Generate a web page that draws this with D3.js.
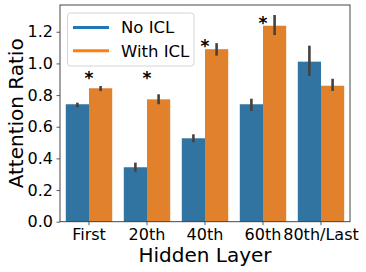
<!DOCTYPE html>
<html><head><meta charset="utf-8">
<script src="https://cdn.jsdelivr.net/npm/d3@7"></script>
<style>body{margin:0;background:#fff}svg{display:block}text{font-family:"DejaVu Sans",sans-serif;fill:#000}</style>
</head><body><svg id="c" width="366" height="272"></svg>
<script>
const categories = ["First","20th","40th","60th","80th/Last"];
const seriesNames = ["No ICL","With ICL"];
const noICL      = [0.742, 0.344, 0.527, 0.742, 1.011];
const noICLLo    = [0.722, 0.316, 0.502, 0.699, 0.922];
const noICLHi    = [0.752, 0.373, 0.552, 0.777, 1.112];
const withICL    = [0.843, 0.773, 1.090, 1.238, 0.859];
const withICLLo  = [0.825, 0.742, 1.049, 1.179, 0.826];
const withICLHi  = [0.857, 0.805, 1.128, 1.306, 0.903];
const starCats   = ["First","20th","40th","60th"];
const starVals   = [0.93, 0.93, 1.133, 1.279];
const yTicks     = [0.0,0.2,0.4,0.6,0.8,1.0,1.2];
const barColors  = ["#3274a1","#e1812c"];
const legColors  = ["#1f77b4","#ff7f0e"];

const svg = d3.select("#c");
const m = {l:60, r:350, t:5, b:221.7};
const x = d3.scaleBand().domain(categories).range([m.l, m.r]).paddingInner(0).paddingOuter(0);
const x1 = d3.scaleBand().domain(seriesNames).range([0.1*x.bandwidth(), 0.9*x.bandwidth()]);
const y = d3.scaleLinear().domain([0, 1.369]).range([m.b, m.t]);

const series = [
  {name:seriesNames[0], v:noICL, lo:noICLLo, hi:noICLHi, c:barColors[0]},
  {name:seriesNames[1], v:withICL, lo:withICLLo, hi:withICLHi, c:barColors[1]}
];
series.forEach(s=>{
  const g = svg.append("g");
  g.selectAll("rect").data(categories).join("rect")
    .attr("x", (d)=>x(d)+x1(s.name)).attr("width", x1.bandwidth())
    .attr("y", (d,i)=>y(s.v[i])).attr("height",(d,i)=>y(0)-y(s.v[i]))
    .attr("fill", s.c);
});
series.forEach(s=>{
  svg.append("g").selectAll("line").data(categories).join("line")
    .attr("x1",(d)=>x(d)+x1(s.name)+x1.bandwidth()/2).attr("x2",(d)=>x(d)+x1(s.name)+x1.bandwidth()/2)
    .attr("y1",(d,i)=>y(s.lo[i])).attr("y2",(d,i)=>y(s.hi[i]))
    .attr("stroke","#424242").attr("stroke-width",2.6);
});

// stars
svg.append("g").selectAll("text").data(starCats).join("text")
  .attr("x", d=>x(d)+x.bandwidth()/2).attr("y",(d,i)=>y(starVals[i])+10)
  .attr("text-anchor","middle").attr("font-size",17).attr("font-weight","bold").text("*");

// axes
const ya = svg.append("g").attr("transform",`translate(${m.l},0)`)
  .call(d3.axisLeft(y).tickValues(yTicks).tickFormat(d3.format(".1f")).tickSize(3.5).tickPadding(3.5));
const xa = svg.append("g").attr("transform",`translate(0,${m.b})`)
  .call(d3.axisBottom(x).tickSize(3.5).tickPadding(3.5));
[ya,xa].forEach(a=>{
  a.select(".domain").remove();
  a.selectAll(".tick line").attr("stroke","#333").attr("stroke-width",0.8);
  a.selectAll(".tick text").attr("font-size",16).attr("fill","#000").attr("font-family","DejaVu Sans");
});
svg.append("rect").attr("x",m.l).attr("y",m.t).attr("width",m.r-m.l).attr("height",m.b-m.t)
  .attr("fill","none").attr("stroke","#333").attr("stroke-width",0.9);

// axis labels
svg.append("text").attr("x",(m.l+m.r)/2).attr("y",262).attr("text-anchor","middle").attr("font-size",20).text("Hidden Layer");
svg.append("text").attr("transform",`translate(23,${(m.t+m.b)/2}) rotate(-90)`).attr("text-anchor","middle").attr("font-size",20).text("Attention Ratio");

// legend
const lg = svg.append("g");
lg.append("rect").attr("x",67.5).attr("y",13).attr("width",126.5).attr("height",53).attr("rx",3)
  .attr("fill","#fff").attr("fill-opacity",0.8).attr("stroke","#d0d0d0").attr("stroke-width",0.9);
seriesNames.forEach((n,i)=>{
  const yy = 27.4 + i*23.3;
  lg.append("line").attr("x1",73).attr("x2",109).attr("y1",yy).attr("y2",yy).attr("stroke",legColors[i]).attr("stroke-width",3);
  lg.append("text").attr("x",121).attr("y",yy+6).attr("font-size",16.5).text(n);
});
</script></body></html>
